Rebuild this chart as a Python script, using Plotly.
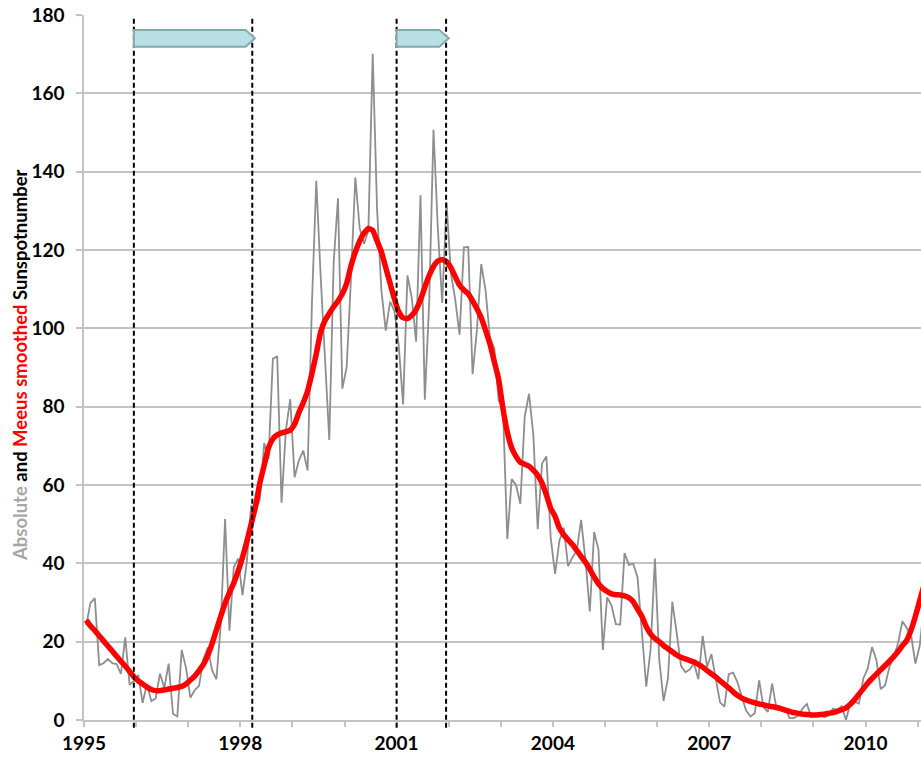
import plotly.graph_objects as go

# ---- data (monthly, Jan 1995 .. Feb 2011) ----
start_year = 1995
absolute = [
    24.2, 29.9, 31.1, 14.0, 14.5, 15.6, 14.5, 14.3, 11.8, 21.1, 9.0, 10.0,        # 1995
    11.5, 4.4, 9.2, 4.8, 5.5, 11.8, 8.2, 14.4, 1.6, 0.9, 17.9, 13.3,              # 1996
    5.7, 7.6, 8.7, 15.5, 18.5, 12.7, 10.4, 24.4, 51.3, 22.8, 39.0, 41.2,          # 1997
    31.9, 40.3, 54.8, 53.4, 56.3, 70.7, 66.6, 92.2, 92.9, 55.5, 74.0, 81.9,       # 1998
    62.0, 66.3, 68.8, 63.7, 106.4, 137.7, 113.5, 93.7, 71.5, 116.7, 133.2, 84.6,  # 1999
    90.1, 112.9, 138.5, 125.5, 121.6, 124.9, 170.1, 130.5, 109.7, 99.4, 106.8, 104.4,  # 2000
    95.6, 80.6, 113.5, 107.7, 96.6, 134.0, 81.8, 106.4, 150.7, 125.5, 106.5, 132.2,    # 2001
    114.1, 107.4, 98.4, 120.7, 120.8, 88.3, 99.6, 116.4, 109.6, 97.5, 95.0, 81.6,      # 2002
    79.5, 46.2, 61.5, 60.0, 55.2, 77.4, 83.3, 72.7, 48.7, 65.5, 67.3, 46.5,       # 2003
    37.3, 45.8, 49.1, 39.3, 41.5, 43.2, 51.1, 40.9, 27.7, 48.0, 43.5, 17.9,       # 2004
    31.3, 29.2, 24.5, 24.4, 42.6, 39.6, 39.9, 36.4, 22.1, 8.5, 18.0, 41.2,        # 2005
    15.3, 4.9, 10.6, 30.2, 22.3, 13.9, 12.2, 12.9, 14.4, 10.4, 21.5, 13.6,        # 2006
    16.8, 10.7, 4.5, 3.4, 11.7, 12.1, 9.7, 6.0, 2.4, 0.9, 1.7, 10.1,              # 2007
    3.3, 2.1, 9.3, 2.9, 2.9, 3.1, 0.5, 0.5, 1.1, 2.9, 4.1, 0.8,                   # 2008
    1.5, 1.4, 0.7, 1.2, 2.9, 2.6, 3.5, 0.0, 4.2, 4.6, 4.2, 10.6,                  # 2009
    13.1, 18.6, 15.4, 7.9, 8.8, 13.5, 16.1, 19.6, 25.2, 23.5, 21.6, 14.4,         # 2010
    19.0, 29.4,                                                                    # 2011
]
meeus_smoothed = [
    25.5, 24.0, 22.8, 21.5, 20.2, 18.9, 17.6, 16.3, 15.0, 13.8, 12.4, 11.0,       # 1995
    10.0, 9.2, 8.4, 7.8, 7.5, 7.5, 7.7, 7.9, 8.1, 8.3, 8.6, 9.2,                  # 1996
    10.2, 11.2, 12.6, 14.2, 16.5, 19.5, 23.0, 26.5, 29.8, 32.5, 35.0, 38.0,       # 1997
    41.5, 45.5, 50.0, 54.5, 60.5, 65.0, 69.5, 71.8, 72.8, 73.3, 73.6, 74.0,       # 1998
    75.5, 78.5, 81.0, 84.0, 88.5, 93.5, 99.0, 102.0, 103.8, 105.5, 107.0, 108.8,  # 1999
    111.5, 116.0, 119.5, 122.3, 124.3, 125.5, 125.0, 122.3, 119.5, 115.5, 111.5, 107.5,  # 2000
    104.2, 102.7, 102.5, 103.3, 104.8, 107.3, 110.5, 113.5, 115.8, 117.2, 117.5, 117.0,  # 2001
    115.5, 113.2, 111.0, 109.8, 108.8, 107.0, 105.0, 102.7, 99.5, 96.0, 91.5, 87.0,      # 2002
    79.5, 73.5, 69.5, 67.3, 65.8, 65.3, 64.8, 63.8, 62.5, 60.5, 57.5, 54.0,       # 2003
    52.0, 49.0, 47.3, 46.0, 44.8, 43.3, 41.8, 40.3, 38.5, 36.5, 34.8, 33.6,       # 2004
    32.8, 32.2, 32.0, 31.9, 31.7, 31.2, 30.2, 28.3, 26.5, 23.8, 22.0, 20.8,       # 2005
    20.0, 19.0, 18.2, 17.4, 16.6, 16.0, 15.6, 15.2, 14.8, 14.2, 13.5, 12.6,       # 2006
    11.8, 11.0, 10.0, 9.1, 8.2, 7.2, 6.3, 5.6, 5.1, 4.7, 4.4, 4.1,                # 2007
    3.9, 3.6, 3.4, 3.2, 2.9, 2.5, 2.2, 1.9, 1.7, 1.5, 1.4, 1.3,                   # 2008
    1.3, 1.4, 1.5, 1.7, 1.9, 2.2, 2.6, 3.1, 4.0, 5.2, 6.6, 8.0,                   # 2009
    9.4, 10.6, 11.7, 12.8, 13.9, 15.0, 16.2, 17.5, 19.0, 20.3, 23.0, 26.5,        # 2010
    30.5, 34.5,                                                                    # 2011
]
# marked intervals (decimal years)
period_starts = [1995.957, 2001.0]
period_ends = [1998.23, 2001.95]
x_tick_labels = ["1995", "1998", "2001", "2004", "2007", "2010"]
y_tick_values = [0, 20, 40, 60, 80, 100, 120, 140, 160, 180]

# mid-month positions in decimal years
months = [start_year + (i + 0.5) / 12 for i in range(len(absolute))]

FONT = "Lato"
GRID = "#C3C3C3"

fig = go.Figure()
fig.add_trace(go.Scatter(x=months, y=absolute, mode="lines",
                         line=dict(color="#8E8E8E", width=1.8), hoverinfo="skip"))
fig.add_trace(go.Scatter(x=months, y=meeus_smoothed, mode="lines",
                         line=dict(color="#FF0000", width=5.5, shape="spline", smoothing=0.5),
                         hoverinfo="skip"))

shapes = []
for xs in period_starts + period_ends:
    shapes.append(dict(type="line", xref="x", yref="paper", x0=xs, x1=xs,
                       y0=-0.011, y1=0.996,
                       line=dict(color="black", width=2, dash="5px,3px"), layer="above"))
tip = 0.18
y_top, y_bot = 176.2, 171.9
y_mid = (y_top + y_bot) / 2
for a, b in zip(period_starts, period_ends):
    tip_x = b + 0.05
    sh = tip_x - tip
    path = (f"M {a},{y_top} L {sh},{y_top} L {tip_x},{y_mid} "
            f"L {sh},{y_bot} L {a},{y_bot} Z")
    shapes.append(dict(type="path", xref="x", yref="y", path=path,
                       fillcolor="#B8DFE5", line=dict(color="#84A8AB", width=2),
                       layer="above"))

fig.update_layout(
    width=921, height=757,
    margin=dict(l=84, r=0, t=15, b=37),
    plot_bgcolor="white", paper_bgcolor="white",
    showlegend=False,
    shapes=shapes,
    font=dict(family=FONT, color="black"),
)
fig.update_xaxes(
    range=[1995, 1995 + 837 / 52.1],
    tickmode="array", tickvals=[int(t) for t in x_tick_labels], ticktext=x_tick_labels,
    ticks="outside", ticklen=5, tickcolor=GRID, tickwidth=1.5,
    minor=dict(tickmode="linear", tick0=1995, dtick=1, ticks="outside",
               ticklen=5, tickcolor=GRID, tickwidth=1.5, showgrid=False),
    showgrid=False, zeroline=False,
    showline=True, linecolor=GRID, linewidth=1.5,
    tickfont=dict(family=FONT, size=19, color="black", weight="bold"),
)
fig.update_yaxes(
    range=[0, 180], tickmode="array", tickvals=y_tick_values,
    ticks="outside", ticklen=6, tickcolor=GRID, tickwidth=1.5,
    ticklabelstandoff=8,
    showgrid=True, gridcolor=GRID, gridwidth=1.5, zeroline=False,
    showline=True, linecolor=GRID, linewidth=1.5,
    tickfont=dict(family=FONT, size=19, color="black", weight="bold"),
)
fig.add_annotation(
    xref="paper", yref="paper", x=-0.0765, y=0.5035,
    xanchor="center", yanchor="middle", textangle=-90, showarrow=False,
    text=('<b><span style="color:#A6A6A6">Absolute</span> and '
          '<span style="color:#FF0000">Meeus smoothed</span> Sunspotnumber</b>'),
    font=dict(family=FONT, size=18.5, color="black"),
)
fig.write_html("out.html")
